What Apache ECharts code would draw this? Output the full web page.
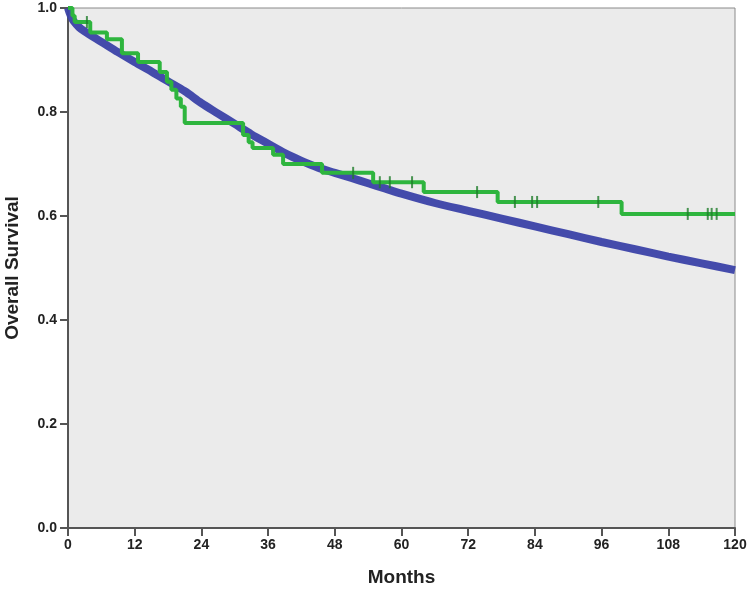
<!DOCTYPE html>
<html>
<head>
<meta charset="utf-8">
<script src="https://cdn.jsdelivr.net/npm/echarts@6/dist/echarts.min.js"></script>
<style>html,body{margin:0;padding:0;background:#fff}#c{width:749px;height:591px}</style>
</head>
<body>
<div id="c"></div>
<script>
// X axis tick labels (months) and Y ticks
var monthTicks = [0, 12, 24, 36, 48, 60, 72, 84, 96, 108, 120];
var survTicks = [0.0, 0.2, 0.4, 0.6, 0.8, 1.0];

// Blue group (large cohort) survival estimates
var blueMonths = [0, 0.5, 1, 2, 3, 6, 9, 12, 15, 18, 21, 24, 27, 30, 33, 36, 39, 42, 45, 48, 51, 54, 57, 60, 66, 72, 78, 84, 90, 96, 102, 108, 114, 120];
var blueSurv   = [1.0, 0.985, 0.975, 0.963, 0.955, 0.935, 0.915, 0.896, 0.878, 0.859, 0.84, 0.817, 0.797, 0.777, 0.757, 0.739, 0.721, 0.706, 0.693, 0.683, 0.673, 0.663, 0.653, 0.643, 0.625, 0.610, 0.595, 0.580, 0.565, 0.550, 0.536, 0.522, 0.509, 0.496];

// Green group (small cohort) Kaplan-Meier steps: event times and survival after event
var greenMonths = [0, 0.8, 1.2, 4.0, 7.0, 9.7, 12.6, 16.5, 17.8, 18.6, 19.5, 20.3, 21.0, 31.5, 32.5, 33.2, 36.9, 38.7, 45.7, 54.9, 64.0, 77.3, 99.6, 120];
var greenSurv   = [1.0, 0.985, 0.973, 0.953, 0.94, 0.913, 0.896, 0.877, 0.858, 0.843, 0.826, 0.81, 0.779, 0.756, 0.742, 0.731, 0.718, 0.70, 0.683, 0.665, 0.646, 0.627, 0.604, 0.604];

// Green censoring marks
var censorMonths = [3.4, 51.3, 56.1, 57.9, 61.9, 73.6, 80.4, 83.5, 84.4, 95.4, 111.5, 115.1, 115.8, 116.7];
var censorSurv   = [0.973, 0.683, 0.665, 0.665, 0.665, 0.646, 0.627, 0.627, 0.627, 0.627, 0.604, 0.604, 0.604, 0.604];

function pairs(xs, ys){ return xs.map(function(x,i){ return [x, ys[i]]; }); }

var chart = echarts.init(document.getElementById('c'), null, {renderer:'canvas'});
var FONT = '"Liberation Sans", Arial, sans-serif';
chart.setOption({
  animation: false,
  backgroundColor: '#ffffff',
  grid: {left: 68, right: 14, top: 8, bottom: 63, containLabel: false, outerBoundsMode: 'none',
         show: true, backgroundColor: '#ebebeb', borderColor: '#8a8a8a', borderWidth: 1},
  xAxis: {
    type: 'value', min: 0, max: 120, interval: 12,
    name: 'Months', nameLocation: 'middle', nameGap: 40,
    nameTextStyle: {fontFamily: FONT, fontWeight: 'bold', fontSize: 19, color: '#222'},
    axisLine: {show: true, onZero: false, lineStyle: {color: '#555', width: 2}},
    axisTick: {show: true, length: 8, lineStyle: {color: '#555', width: 2}},
    axisLabel: {fontFamily: FONT, fontWeight: 'bold', fontSize: 14, color: '#222', margin: 10,
      formatter: function(v){ return monthTicks.indexOf(v) >= 0 ? String(v) : ''; }},
    splitLine: {show: false}
  },
  yAxis: {
    type: 'value', min: 0, max: 1, interval: 0.2,
    name: 'Overall Survival', nameLocation: 'middle', nameGap: 46,
    nameTextStyle: {fontFamily: FONT, fontWeight: 'bold', fontSize: 19, color: '#222'},
    axisLine: {show: true, onZero: false, lineStyle: {color: '#555', width: 2}},
    axisTick: {show: true, length: 8, lineStyle: {color: '#555', width: 2}},
    axisLabel: {fontFamily: FONT, fontWeight: 'bold', fontSize: 14, color: '#222', margin: 11,
      formatter: function(v){ return v.toFixed(1); }},
    splitLine: {show: false}
  },
  series: [
    {
      type: 'line', data: pairs(blueMonths, blueSurv), smooth: 0.3, showSymbol: false,
      lineStyle: {color: '#3b42a8', width: 8, opacity: 0.95}, z: 2
    },
    {
      type: 'line', data: pairs(greenMonths, greenSurv), step: 'end', showSymbol: false,
      lineStyle: {color: '#2eb53e', width: 4}, z: 3
    },
    {
      type: 'scatter', data: pairs(censorMonths, censorSurv), symbol: 'rect', symbolSize: [2, 12],
      itemStyle: {color: '#1f7d2b'}, z: 4
    }
  ]
});
</script>
</body>
</html>
